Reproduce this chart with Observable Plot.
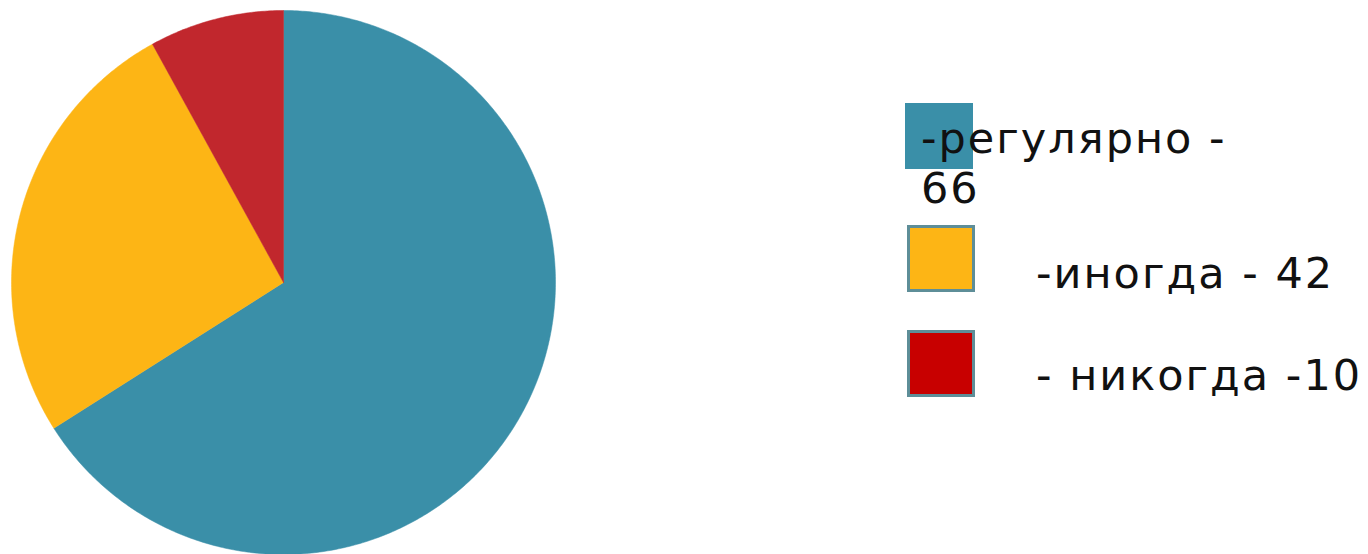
<!DOCTYPE html>
<html>
<head>
<meta charset="utf-8">
<script src="https://cdn.jsdelivr.net/npm/d3@7"></script>
<script src="https://cdn.jsdelivr.net/npm/@observablehq/plot@0.6"></script>
<style>
  html, body { margin: 0; padding: 0; background: #fff; }
  #wrap { position: relative; width: 1368px; height: 554px; overflow: hidden; }
  .leg { position: absolute; font-family: "DejaVu Sans", sans-serif; font-size: 43px; letter-spacing: 2px; color: #111; line-height: 50px; }
  .sw { position: absolute; box-sizing: border-box; }
</style>
</head>
<body>
<div id="wrap"></div>
<script>
// Data (slice shares) and legend text
const categories = ["регулярно", "иногда", "никогда"];
const shares = [66, 26, 8];
const legendLabels = ["-регулярно - 66", "-иногда - 42", "- никогда -10"];
const sliceColors = ["#3A8FA8", "#FDB515", "#C1272D"];
const swatchColors = ["#3A8FA8", "#FDB515", "#C80000"];

const pie = d3.pie().sort(null).value(d => d)(shares);
const pts = [];
pie.forEach((p, i) => {
  const steps = Math.max(8, Math.ceil((p.endAngle - p.startAngle) / 0.01));
  pts.push({key: categories[i], color: sliceColors[i], x: 0, y: 0});
  for (let k = 0; k <= steps; k++) {
    const a = p.startAngle + (p.endAngle - p.startAngle) * k / steps;
    pts.push({key: categories[i], color: sliceColors[i], x: Math.sin(a), y: Math.cos(a)});
  }
  pts.push({key: categories[i], color: sliceColors[i], x: 0, y: 0});
});

const chart = Plot.plot({
  width: 1368,
  height: 554,
  margin: 0,
  x: {domain: [-1, 1], range: [11, 555], axis: null},
  y: {domain: [-1, 1], range: [554, 10], axis: null},
  marks: [
    Plot.line(pts, {x: "x", y: "y", z: "key", fill: "color", stroke: "color", strokeWidth: 0.5, curve: "linear"})
  ]
});
const wrap = document.getElementById("wrap");
wrap.appendChild(chart);

// Legend (HTML overlay)
const swatches = [
  {left: 905, top: 103, border: "none"},
  {left: 907, top: 225, border: "3px solid #5E8E98"},
  {left: 907, top: 330, border: "3px solid #5E8E98"}
];
const texts = [
  {left: 921, top: 113, width: 330},
  {left: 1036, top: 248, width: 332},
  {left: 1036, top: 350, width: 332}
];
legendLabels.forEach((lab, i) => {
  const s = document.createElement("div");
  s.className = "sw";
  s.style.left = swatches[i].left + "px";
  s.style.top = swatches[i].top + "px";
  s.style.width = "68px";
  s.style.height = i === 0 ? "66px" : "67px";
  s.style.background = swatchColors[i];
  s.style.border = swatches[i].border;
  wrap.appendChild(s);
  const t = document.createElement("div");
  t.className = "leg";
  t.style.left = texts[i].left + "px";
  t.style.top = texts[i].top + "px";
  t.style.width = texts[i].width + "px";
  t.style.whiteSpace = i === 0 ? "normal" : "nowrap";
  t.textContent = lab;
  wrap.appendChild(t);
});
</script>
</body>
</html>
